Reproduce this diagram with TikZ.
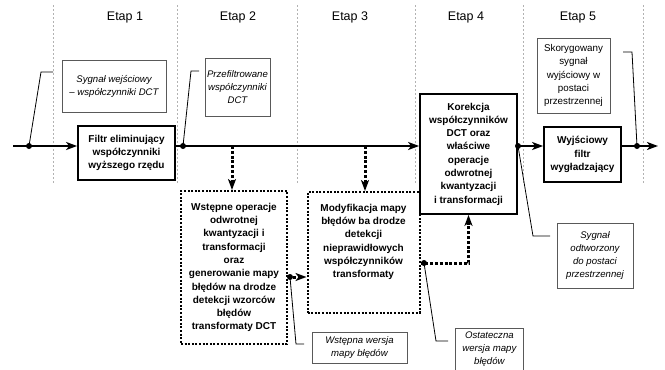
\documentclass[tikz,border=0pt]{standalone}
\usepackage{fontspec}
\setmainfont{Liberation Sans}
\usetikzlibrary{arrows.meta}
\newcommand\toptext[3]{\parbox[c][#1][t]{#2}{\centering #3}}

\begin{document}
\begin{tikzpicture}[x=1pt,y=-1pt,
  divider/.style={draw=black!30, line width=0.6pt, dash pattern=on 2pt off 2pt},
  etap/.style={font=\fontsize{12.5}{14}\selectfont},
  block/.style={draw, line width=1.8pt, align=center, inner sep=2pt,
    font=\fontsize{10}{13.3}\selectfont\bfseries},
  dotblock/.style={block, line width=2pt, dash pattern=on 2pt off 1.6pt},
  label/.style={draw=black!65, line width=0.8pt, align=center, inner sep=2pt,
    font=\fontsize{9.6}{13}\selectfont\itshape},
  leader/.style={line width=0.8pt},
  mainthick/.style={line width=2.8pt, -{Stealth[length=11pt,width=8pt,inset=3pt]}},
  mainthin/.style={line width=1.8pt, -{Stealth[length=11pt,width=8pt,inset=3pt]}},
  dotarrow/.style={line width=3pt, dash pattern=on 3pt off 1.8pt,
    -{Stealth[length=11pt,width=8pt,inset=3pt]}}]
  %%%%% START %%%%%
  \useasboundingbox (0,0) rectangle (665,370);
  \clip (0,0) rectangle (665,370);

  % stages
  \foreach \x in {53,177,297,415,523,643}
    \draw[divider] (\x,5) -- (\x,183);
  \foreach \x/\n in {125/1,238/2,350/3,466/4,578/5}
    \node[etap] (etap\n) at (\x,17) {Etap \n};

  % blocks
  \node[block, minimum width=97pt, minimum height=54pt] (filtr) at (126.5,153)
    {Filtr eliminujący\\współczynniki\\wyższego rzędu};
  \node[block, minimum width=97pt, minimum height=120pt] (korekcja) at (468.5,154)
    {Korekcja\\współczynników\\DCT oraz\\właściwe\\operacje\\odwrotnej\\kwantyzacji\\i transformacji};
  \node[block, minimum width=77pt, minimum height=55pt] (wygl) at (582.5,154.5)
    {Wyjściowy\\filtr\\wygładzający};
  \node[dotblock, minimum width=106pt, minimum height=153pt] (wstepne) at (234,267.5)
    {Wstępne operacje\\odwrotnej\\kwantyzacji i\\transformacji\\oraz\\generowanie mapy\\błędów na drodze\\detekcji wzorców\\błędów\\transformaty DCT};
  \node[dotblock, inner sep=12pt, minimum width=95pt, minimum height=121pt] (modyf) at (363.5,252.5)
    {\toptext{97pt}{88pt}{Modyfikacja mapy\\błędów ba drodze\\detekcji\\nieprawidłowych\\współczynników\\transformaty}};

  % labels
  \node[label, minimum width=104pt, minimum height=52pt] (lwej) at (114,86)
    {Sygnał wejściowy\\– współczynniki DCT};
  \node[label, minimum width=65pt, minimum height=58pt] (lprz) at (237.5,87)
    {Przefiltrowane\\współczynniki\\DCT};
  \node[label, font=\fontsize{9.8}{13.3}\selectfont, minimum width=73pt, minimum height=75pt] (lsko) at (573.5,75.5)
    {Skorygowany\\sygnał\\wyjściowy w\\postaci\\przestrzennej};
  \node[label, minimum width=95pt, minimum height=31pt] (lwst) at (359.5,347.5)
    {Wstępna wersja\\mapy błędów};
  \node[label, inner sep=3pt, anchor=north west] (lost) at (455,328)
    {\toptext{50pt}{62pt}{Ostateczna\\wersja mapy\\błędów}};
  \node[label, minimum width=76pt, minimum height=65pt] (lodt) at (595,255.5)
    {Sygnał\\odtworzony\\do postaci\\przestrzennej};

  % main signal path
  \coordinate (in) at (13,146);
  \coordinate (out) at (658,146);
  \coordinate (d1) at (29,146);
  \coordinate (d2) at (183,146);
  \coordinate (d3) at (518,146);
  \coordinate (d4) at (637,146);
  \coordinate (d5) at (290,277);
  \coordinate (d6) at (424,263);
  \coordinate (t1) at (232,146);
  \coordinate (t2) at (365,146);

  \draw[mainthick] (in) -- (in -| filtr.west);
  \draw[mainthin] (filtr.east |- in) -- (korekcja.west |- in);
  \draw[mainthick] (korekcja.east |- in) -- (wygl.west |- in);
  \draw[mainthick] (wygl.east |- in) -- (out);

  % error map path
  \draw[dotarrow] (t1) -- (t1 |- wstepne.north);
  \draw[dotarrow] (t2) -- (t2 |- modyf.north);
  \draw[dotarrow] (wstepne.east |- d5) -- (modyf.west |- d5);
  \draw[dotarrow] (modyf.east |- d6) -| (korekcja.south);

  % leaders
  \coordinate (e1) at (53,72);
  \coordinate (e2) at (199,71);
  \coordinate (e3) at (623,52);
  \coordinate (e4) at (304,344);
  \coordinate (e5) at (448,341);
  \coordinate (e6) at (550,236);
  \draw[leader] (d1) -- (41,72) -- (e1);
  \draw[leader] (d2) -- (191,71) -- (e2);
  \draw[leader] (d4) -- (632,52) -- (e3);
  \draw[leader] (d5) -- (296,344) -- (e4);
  \draw[leader] (d6) -- (436,341) -- (e5);
  \draw[leader] (d3) -- (533,236) -- (e6);

  \foreach \d in {d1,d2,d3,d4,d5,d6}
    \fill (\d) circle (3pt);
  %%%%% END %%%%%
\end{tikzpicture}
\end{document}
